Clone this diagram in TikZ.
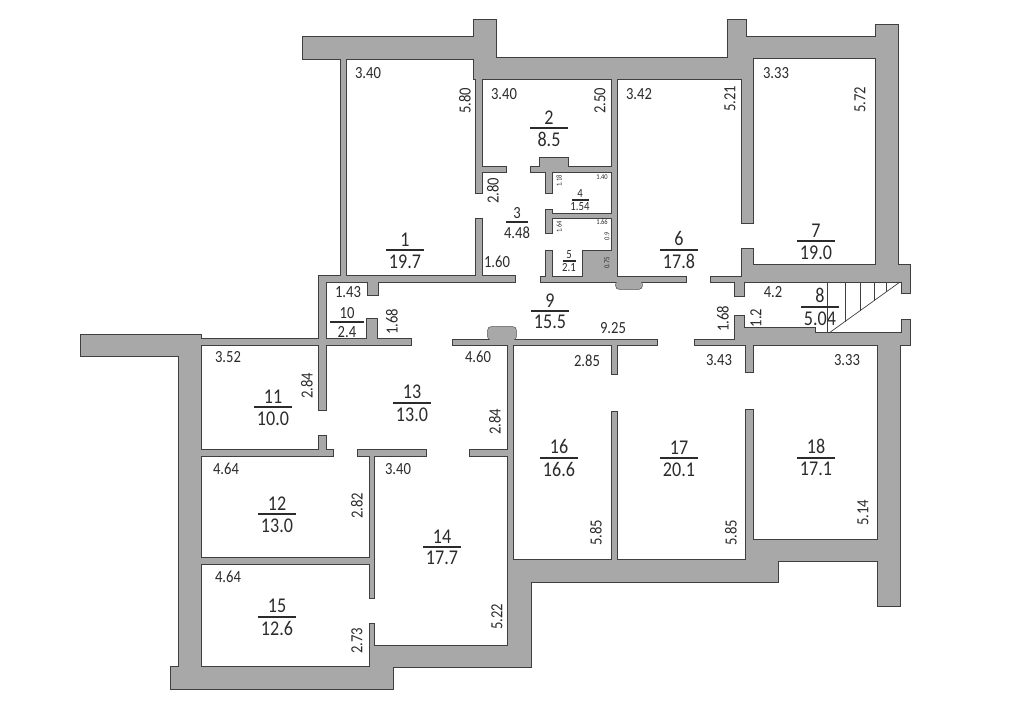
\documentclass[tikz,border=0pt]{standalone}
\usepackage{fontspec}
\setmainfont[FakeStretch=0.86]{Carlito}
\definecolor{wallgray}{HTML}{A8A8A8}
\definecolor{walledge}{HTML}{3F3F3F}
\definecolor{inkdark}{HTML}{2B2B2B}
\tikzset{
    wallpart/.style={fill=wallgray, draw=walledge, line width=1.1pt},
    wallfill/.style={fill=wallgray},
    stairline/.style={draw=walledge, line width=0.7pt},
    sizelabel/.style={text=inkdark, inner sep=0pt, font=\fontsize{17}{17}\selectfont},
    sizeup/.style={sizelabel, rotate=90},
    sizetiny/.style={text=inkdark, inner sep=0pt, font=\fontsize{7.5}{7.5}\selectfont},
    roomtext/.style={text=inkdark, inner sep=0pt, font=\fontsize{21}{21}\selectfont},
    roomtextsmall/.style={text=inkdark, inner sep=0pt, font=\fontsize{17}{17}\selectfont},
    roomtexttiny/.style={text=inkdark, inner sep=0pt, font=\fontsize{12.5}{12.5}\selectfont},
    roombar/.style 2 args={fill=inkdark, inner sep=0pt, minimum width=38pt, minimum height=2pt,
        label={[roomtext, label distance=2.5pt]above:#1}, label={[roomtext, label distance=3pt]below:#2}},
    roombarsmall/.style n args={3}{fill=inkdark, inner sep=0pt, minimum width=#1, minimum height=2pt,
        label={[roomtextsmall, label distance=1.5pt]above:#2}, label={[roomtextsmall, label distance=3pt]below:#3}},
    roombartiny/.style n args={3}{fill=inkdark, inner sep=0pt, minimum width=#1, minimum height=1.4pt,
        label={[roomtexttiny, label distance=1pt]above:#2}, label={[roomtexttiny, label distance=1pt]below:#3}}
}
\begin{document}
\begin{tikzpicture}[x=1pt, y=-1pt]
    \useasboundingbox (0,0) rectangle (1023,723);
    % walls: every part drawn with its edge, then filled once more to merge them
    \foreach \pass in {wallpart, wallfill} {
        \foreach \xa/\ya/\xb/\yb in {
            303/37/480/59, 474/20/496/79, 480/58/753/79, 728/20/746/60, 746/37/898/58,
            876/25/898/282, 742/78/753/223, 341/59/346/277, 476/59/482/193, 482/167/506/172,
            531/167/617/172, 540/158/568/167, 546/172/552/193, 546/210/552/233, 552/214/612/218,
            546/251/552/277, 583/251/612/277, 612/78/617/282, 476/219/482/277, 319/276/515/282,
            541/277/686/282, 368/282/378/295, 319/276/326/410, 711/277/742/282, 742/249/753/282,
            735/282/744/296, 753/265/902/282, 902/265/910/293, 201/339/411/345, 453/340/657/345,
            367/319/377/340, 695/340/910/345, 744/328/815/345, 815/333/902/345, 902/320/910/345,
            735/316/744/340, 746/345/753/372, 878/345/900/606, 612/345/617/374, 612/412/617/560,
            746/410/753/540, 508/345/513/560, 179/335/201/667, 81/335/201/356, 201/450/333/456,
            319/436/326/451, 358/450/426/456, 470/450/508/456, 370/456/374/598, 201/558/370/564,
            171/667/393/689, 370/624/374/667, 374/646/531/667, 508/560/531/667, 508/560/778/582,
            746/540/878/561
        } {
            \path[\pass] (\xa,\ya) rectangle (\xb,\yb);
        }
        \path[\pass, rounded corners=3pt] (616,281) -- (616,289) -- (642,289) -- (642,281) -- cycle;
        \path[\pass, rounded corners=3pt] (488,340) -- (488,327) -- (516,327) -- (516,340) -- cycle;
    }
    % stairs
    \coordinate (stairtop) at (900,282);
    \coordinate (stairfoot) at (829,333);
    \draw[stairline] (stairtop) -- (stairfoot);
    \draw[stairline] (827,282) -- (827,333);
    \draw[stairline] (845,282) -- (845,321.5);
    \draw[stairline] (860,282) -- (860,310.7);
    \draw[stairline] (874,282) -- (874,300.7);
    \draw[stairline] (886,282) -- (886,292);
    % rooms
    \node[roombar={1}{19.7}] (room1) at (405,250) {};
    \node[roombar={2}{8.5}] (room2) at (549,128) {};
    \node[roombarsmall={22pt}{3}{4.48}] (room3) at (517,222) {};
    \node[roombartiny={17pt}{4}{1.54}] (room4) at (580,200) {};
    \node[roombartiny={13pt}{5}{2.1}] (room5) at (569,261) {};
    \node[roombar={6}{17.8}] (room6) at (679,250) {};
    \node[roombar={7}{19.0}] (room7) at (816,241) {};
    \node[roombar={8}{5.04}] (room8) at (820,307) {};
    \node[roombar={9}{15.5}] (room9) at (550,311) {};
    \node[roombarsmall={34pt}{10}{2.4}] (room10) at (347,322) {};
    \node[roombar={11}{10.0}] (room11) at (273,407) {};
    \node[roombar={12}{13.0}] (room12) at (277,514) {};
    \node[roombar={13}{13.0}] (room13) at (412,403) {};
    \node[roombar={14}{17.7}] (room14) at (442,547) {};
    \node[roombar={15}{12.6}] (room15) at (277,617) {};
    \node[roombar={16}{16.6}] (room16) at (559,458) {};
    \node[roombar={17}{20.1}] (room17) at (679,458) {};
    \node[roombar={18}{17.1}] (room18) at (816,458) {};
    % wall lengths
    \node[sizelabel] (size1) at (368,73) {3.40};
    \node[sizeup] (size2) at (465,101) {5.80};
    \node[sizelabel] (size3) at (504,94) {3.40};
    \node[sizeup] (size4) at (600,101) {2.50};
    \node[sizelabel] (size5) at (639,94) {3.42};
    \node[sizeup] (size6) at (730,99) {5.21};
    \node[sizelabel] (size7) at (776,73) {3.33};
    \node[sizeup] (size8) at (860,100) {5.72};
    \node[sizeup] (size9) at (493,191) {2.80};
    \node[sizelabel] (size10) at (497,262) {1.60};
    \node[sizelabel] (size11) at (348,292) {1.43};
    \node[sizeup] (size12) at (392,322) {1.68};
    \node[sizelabel] (size13) at (773,292) {4.2};
    \node[sizeup] (size14) at (756,318) {1.2};
    \node[sizeup] (size15) at (723,319) {1.68};
    \node[sizelabel] (size16) at (613,328) {9.25};
    \node[sizelabel] (size17) at (719,360) {3.43};
    \node[sizelabel] (size18) at (847,360) {3.33};
    \node[sizelabel] (size19) at (228,357) {3.52};
    \node[sizeup] (size20) at (307,386) {2.84};
    \node[sizelabel] (size21) at (478,357) {4.60};
    \node[sizelabel] (size22) at (587,361) {2.85};
    \node[sizeup] (size23) at (495,422) {2.84};
    \node[sizelabel] (size24) at (226,469) {4.64};
    \node[sizelabel] (size25) at (398,469) {3.40};
    \node[sizeup] (size26) at (357,506) {2.82};
    \node[sizelabel] (size27) at (228,577) {4.64};
    \node[sizeup] (size28) at (357,641) {2.73};
    \node[sizeup] (size29) at (497,617) {5.22};
    \node[sizeup] (size30) at (596,533) {5.85};
    \node[sizeup] (size31) at (731,533) {5.85};
    \node[sizeup] (size32) at (863,513) {5.14};
    % the small rooms
    \node[sizetiny, rotate=90] (tiny1) at (559,181) {1.18};
    \node[sizetiny] (tiny2) at (602,177) {1.40};
    \node[sizetiny, rotate=90] (tiny3) at (559,227) {1.64};
    \node[sizetiny] (tiny4) at (602,222) {1.66};
    \node[sizetiny, rotate=90] (tiny5) at (607,236) {0.9};
    \node[sizetiny, rotate=90] (tiny6) at (607,263) {0.75};
\end{tikzpicture}
\end{document}
